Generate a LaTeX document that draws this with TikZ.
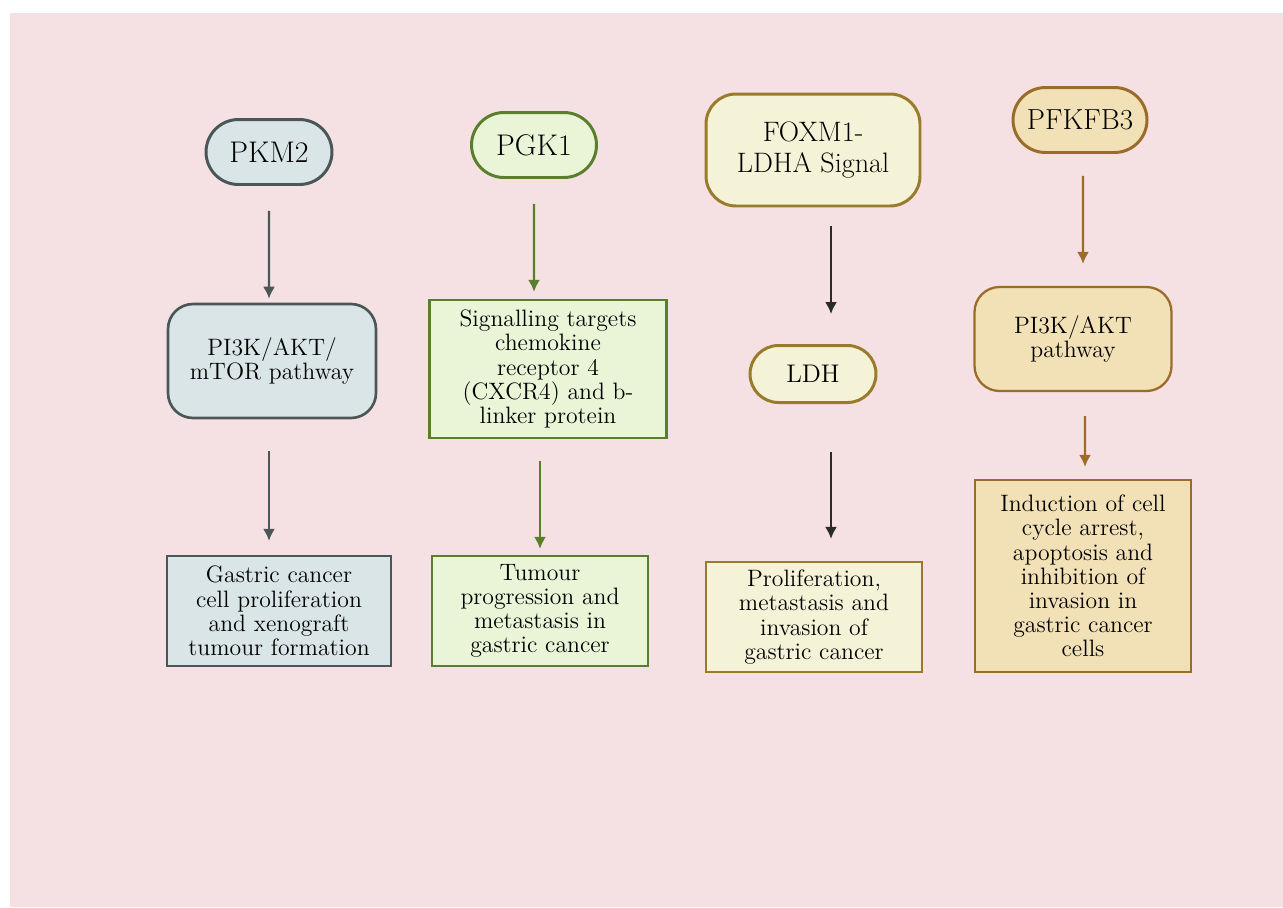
\documentclass[tikz,border=0pt]{standalone}
\usepackage{tikz}
\usetikzlibrary{arrows.meta,shapes.misc}

\definecolor{bgpink}{HTML}{F5E1E3}
\definecolor{slateline}{HTML}{4A5756}
\definecolor{slatefill}{HTML}{D9E5E6}
\definecolor{greenline}{HTML}{5A7F2C}
\definecolor{greenfill}{HTML}{EAF5D8}
\definecolor{oliveline}{HTML}{9A7B2C}
\definecolor{olivefill}{HTML}{F5F3D7}
\definecolor{darkarrow}{HTML}{2B2B2B}
\definecolor{brownline}{HTML}{9B6B2A}
\definecolor{brownfill}{HTML}{F2E1B7}

\begin{document}
\begin{tikzpicture}[x=0.02cm, y=-0.02cm, >={Latex[length=0.24cm,width=0.24cm]},
    pill/.style={rounded rectangle, line width=1.7pt, inner sep=0pt, align=center,
      font=\fontsize{17}{18.5}\selectfont},
    roundbox/.style={rectangle, rounded corners=0.5cm, line width=1.5pt, inner sep=0pt,
      align=center, font=\fontsize{13.5}{14}\selectfont},
    resbox/.style={rectangle, line width=1.3pt, inner sep=0pt, align=center,
      font=\fontsize{13.5}{13.8}\selectfont},
    arr/.style={->, line width=1.2pt}]

    % --- background ---
    \useasboundingbox (0,0) rectangle (1283,907);
    \fill[bgpink] (10,13) rectangle (1283,907);

    % --- PKM2 ---
    \node[pill, draw=slateline, fill=slatefill, minimum width=2.52cm, minimum height=1.3cm]
      (pkm) at (269,152) {PKM2};
    \node[roundbox, draw=slateline, fill=slatefill, minimum width=4.16cm, minimum height=2.28cm]
      (pathA) at (272,361) {PI3K/AKT/\\mTOR pathway};
    \node[resbox, draw=slateline, fill=slatefill, minimum width=4.48cm, minimum height=2.2cm]
      (resA) at (279,611) {Gastric cancer\\cell proliferation\\and xenograft\\tumour formation};
    \draw[arr, slateline, shorten <=0.5cm, shorten >=0.08cm] (pkm) -- (pkm |- pathA.north);
    \draw[arr, slateline, shorten <=0.64cm, shorten >=0.28cm] (pkm |- pathA.south) -- (pkm |- resA.north);

    % --- PGK1 ---
    \node[pill, draw=greenline, fill=greenfill, minimum width=2.5cm, minimum height=1.3cm]
      (pgk) at (534,145) {PGK1};
    \node[resbox, draw=greenline, fill=greenfill, minimum width=4.74cm, minimum height=2.76cm]
      (sigB) at (548,369) {Signalling targets\\chemokine\\receptor 4\\(CXCR4) and b-\\linker protein};
    \node[resbox, draw=greenline, fill=greenfill, minimum width=4.32cm, minimum height=2.2cm]
      (resB) at (540,611) {Tumour\\progression and\\metastasis in\\gastric cancer};
    \draw[arr, greenline, shorten <=0.5cm, shorten >=0.14cm] (pgk) -- (pgk |- sigB.north);
    \draw[arr, greenline, shorten <=0.44cm, shorten >=0.12cm] (resB |- sigB.south) -- (resB);

    % --- FOXM1-LDHA ---
    \node[roundbox, rounded corners=0.6cm, line width=1.7pt, draw=oliveline, fill=olivefill,
      minimum width=4.28cm, minimum height=2.24cm, font=\fontsize{16}{17.5}\selectfont]
      (foxm) at (813,150) {FOXM1-\\LDHA Signal};
    \node[pill, draw=oliveline, fill=olivefill, minimum width=2.52cm, minimum height=1.14cm,
      font=\fontsize{14.5}{16}\selectfont]
      (ldh) at (813,374) {LDH};
    \node[resbox, draw=oliveline, fill=olivefill, minimum width=4.32cm, minimum height=2.2cm]
      (resC) at (814,617) {Proliferation,\\metastasis and\\invasion of\\gastric cancer};
    \draw[arr, darkarrow, shorten <=0.38cm, shorten >=0.6cm]
      ([xshift=0.36cm]foxm.south) -- ([xshift=0.36cm]ldh.north);
    \draw[arr, darkarrow, shorten <=0.96cm, shorten >=0.44cm]
      ([xshift=0.36cm]ldh.south) -- ([xshift=0.34cm]resC.north);

    % --- PFKFB3 ---
    \node[pill, draw=brownline, fill=brownfill, minimum width=2.68cm, minimum height=1.3cm,
      font=\fontsize{16.5}{18}\selectfont]
      (pfk) at (1080,120) {PFKFB3};
    \node[roundbox, line width=1.3pt, draw=brownline, fill=brownfill, minimum width=3.94cm,
      minimum height=2.08cm]
      (pathD) at (1073,339) {PI3K/AKT\\pathway};
    \node[resbox, draw=brownline, fill=brownfill, minimum width=4.32cm, minimum height=3.84cm]
      (resD) at (1083,576) {Induction of cell\\cycle arrest,\\apoptosis and\\inhibition of\\invasion in\\gastric cancer\\cells};
    \draw[arr, brownline, shorten <=0.44cm, shorten >=0.44cm]
      ([xshift=0.06cm]pfk.south) -- ([xshift=0.2cm]pathD.north);
    \draw[arr, brownline, shorten <=0.48cm, shorten >=0.24cm]
      ([xshift=0.24cm]pathD.south) -- ([xshift=0.04cm]resD.north);
\end{tikzpicture}
\end{document}
